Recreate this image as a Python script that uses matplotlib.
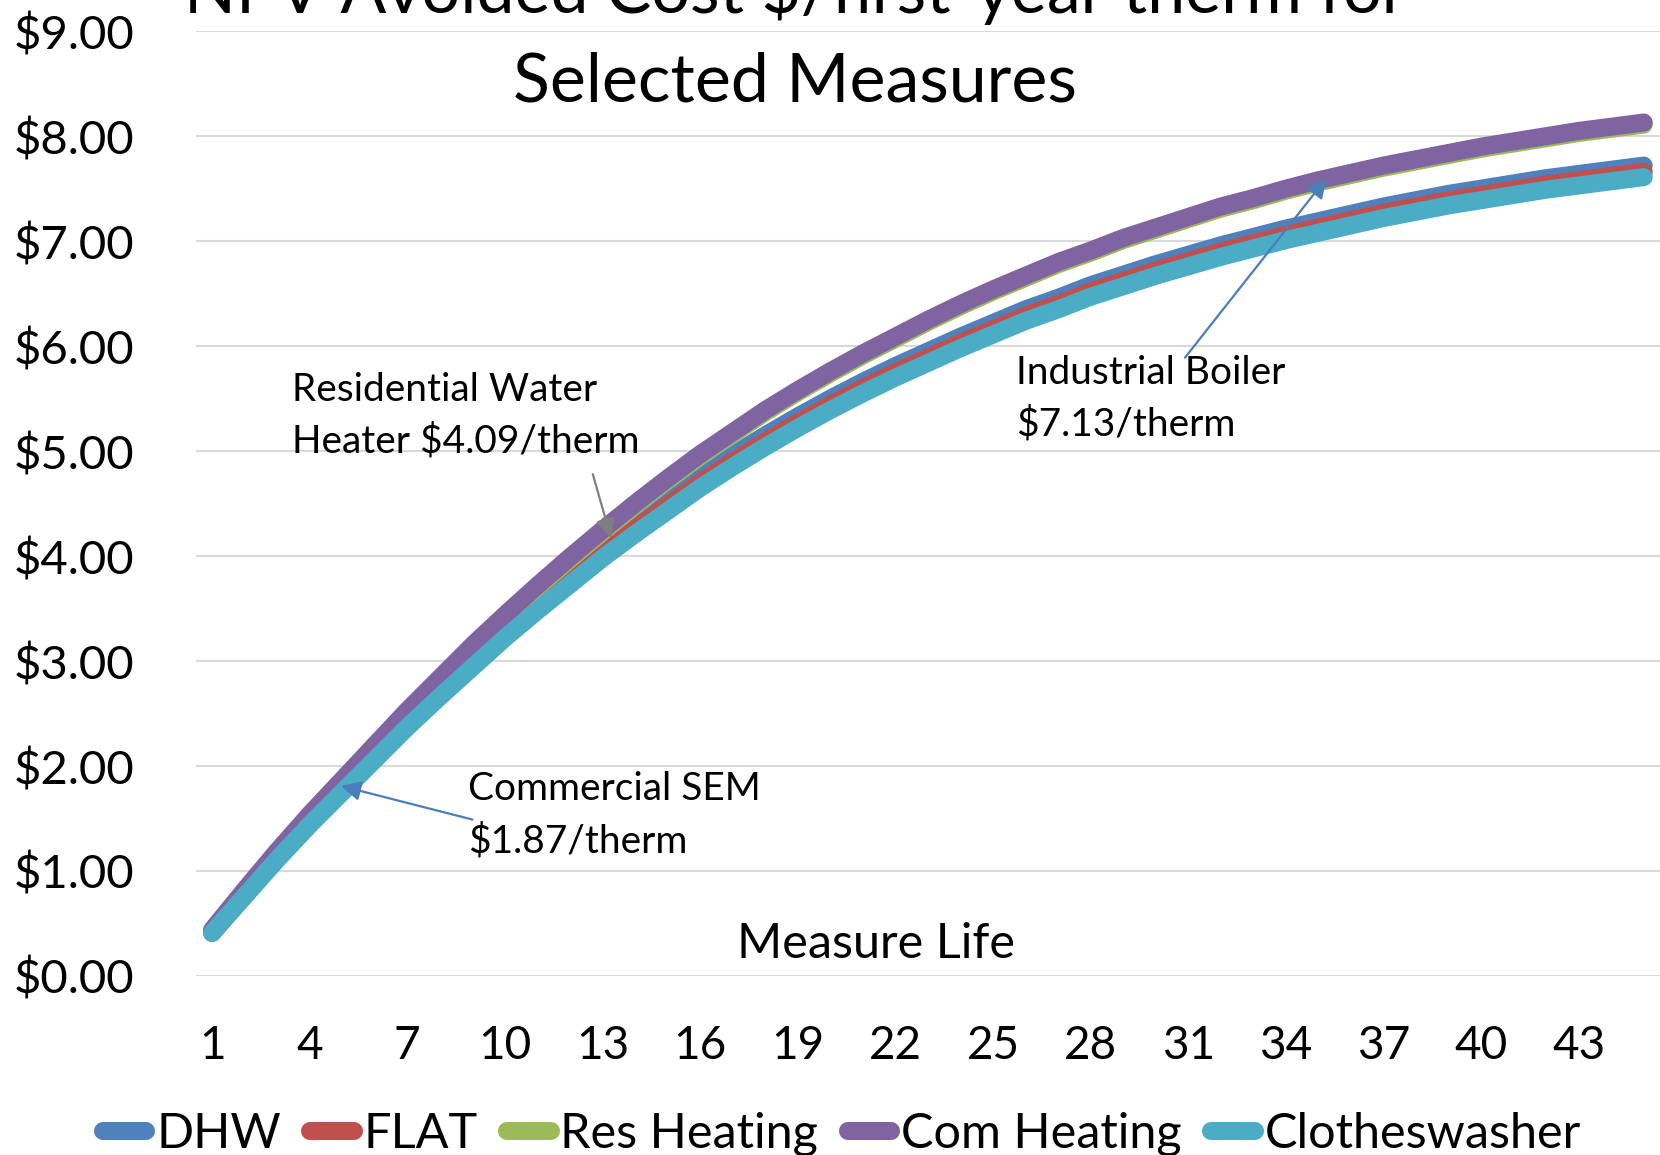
import matplotlib.pyplot as plt
from matplotlib.lines import Line2D

plt.rcParams['font.family'] = ['Lato', 'DejaVu Sans']

# measure life in years (category axis)
years = list(range(1, 46))

# NPV avoided cost, $ per first-year therm, by load shape
dhw = [0.42, 0.78, 1.14, 1.49, 1.81, 2.13, 2.45, 2.75, 3.04, 3.32,
       3.59, 3.84, 4.09, 4.32, 4.54, 4.76, 4.96, 5.15, 5.33, 5.50,
       5.66, 5.81, 5.95, 6.09, 6.22, 6.35, 6.46, 6.58, 6.68, 6.78,
       6.87, 6.96, 7.04, 7.12, 7.19, 7.26, 7.33, 7.39, 7.45, 7.50,
       7.55, 7.60, 7.64, 7.68, 7.72]
flat = [0.41, 0.77, 1.12, 1.46, 1.77, 2.09, 2.40, 2.70, 2.98, 3.27,
        3.53, 3.78, 4.03, 4.26, 4.48, 4.70, 4.90, 5.09, 5.27, 5.44,
        5.60, 5.75, 5.89, 6.03, 6.16, 6.29, 6.40, 6.52, 6.62, 6.72,
        6.81, 6.90, 6.98, 7.06, 7.13, 7.20, 7.27, 7.33, 7.39, 7.44,
        7.49, 7.54, 7.58, 7.62, 7.66]
res_heating = [0.43, 0.81, 1.18, 1.52, 1.85, 2.18, 2.51, 2.82, 3.13, 3.42,
               3.70, 3.97, 4.23, 4.48, 4.72, 4.95, 5.16, 5.37, 5.56, 5.74,
               5.91, 6.07, 6.23, 6.38, 6.52, 6.65, 6.78, 6.89, 7.01, 7.11,
               7.21, 7.31, 7.39, 7.48, 7.56, 7.63, 7.70, 7.76, 7.82, 7.88,
               7.93, 7.98, 8.03, 8.07, 8.11]
com_heating = [0.44, 0.82, 1.19, 1.54, 1.87, 2.20, 2.53, 2.84, 3.15, 3.44,
               3.72, 3.99, 4.25, 4.50, 4.74, 4.97, 5.18, 5.39, 5.58, 5.76,
               5.93, 6.09, 6.25, 6.40, 6.54, 6.67, 6.80, 6.91, 7.03, 7.13,
               7.23, 7.33, 7.41, 7.50, 7.58, 7.65, 7.72, 7.78, 7.84, 7.90,
               7.95, 8.00, 8.05, 8.09, 8.13]
clotheswasher = [0.41, 0.76, 1.11, 1.44, 1.75, 2.06, 2.37, 2.66, 2.94, 3.22,
                 3.48, 3.73, 3.98, 4.21, 4.43, 4.65, 4.85, 5.04, 5.22, 5.39,
                 5.55, 5.70, 5.84, 5.98, 6.11, 6.24, 6.35, 6.47, 6.57, 6.67,
                 6.76, 6.85, 6.93, 7.01, 7.08, 7.15, 7.22, 7.28, 7.34, 7.39,
                 7.44, 7.49, 7.53, 7.57, 7.61]

series = [('DHW', dhw, '#4F81BD'),
          ('FLAT', flat, '#C0504D'),
          ('Res Heating', res_heating, '#9BBB59'),
          ('Com Heating', com_heating, '#8064A2'),
          ('Clotheswasher', clotheswasher, '#4BACC6')]

ytick_vals = list(range(0, 10))
ytick_labels = ['\\$%d.00' % v for v in ytick_vals]
xtick_vals = years[::3]

fig = plt.figure(figsize=(16.6, 11.55), dpi=100)
ax = fig.add_axes([0.118, 0.155, 0.882, 0.818])

lw = 13
for name, vals, col in series:
    ax.plot(years, vals, color=col, lw=lw, solid_capstyle='round',
            solid_joinstyle='round', label=name)

ax.set_xlim(0.5, 45.5)
ax.set_ylim(0, 9)
ax.set_yticks(ytick_vals)
ax.set_yticklabels(ytick_labels)
ax.set_xticks(xtick_vals)
ax.set_xticklabels([str(x) for x in xtick_vals])
ax.yaxis.grid(True, color='#D9D9D9', lw=1.5)
ax.set_axisbelow(True)
for s in ax.spines.values():
    s.set_visible(False)
ax.tick_params(axis='y', length=0, pad=44, labelsize=34)
ax.tick_params(axis='x', length=0, pad=35, labelsize=33)

# title (first line runs off the top of the figure)
fig.text(0.479, 1 - 13 / 1155, 'NPV Avoided Cost \\$/first-year therm for',
         ha='center', va='baseline', fontsize=49)
fig.text(0.479, 1 - 102 / 1155, 'Selected Measures',
         ha='center', va='baseline', fontsize=49)

fig.text(876 / 1660, 1 - 944 / 1155, 'Measure Life',
         ha='center', va='center', fontsize=35)

# callouts
note_fs = 28
blue_arrow = dict(arrowstyle='-|>', color='#4A7EBB', lw=1.6,
                  mutation_scale=30, shrinkA=0, shrinkB=0)
gray_arrow = dict(arrowstyle='-|>', color='#7F7F7F', lw=1.6,
                  mutation_scale=30, shrinkA=0, shrinkB=0)

fig.text(292 / 1660, 1 - 390 / 1155, 'Residential Water',
         va='center', ha='left', fontsize=note_fs)
fig.text(292 / 1660, 1 - 441 / 1155, 'Heater \\$4.09/therm',
         va='center', ha='left', fontsize=note_fs)
ax.annotate('', xy=(13.26, 4.17), xytext=(12.70, 4.78), arrowprops=gray_arrow)

fig.text(468 / 1660, 1 - 789 / 1155, 'Commercial SEM',
         va='center', ha='left', fontsize=note_fs)
fig.text(468 / 1660, 1 - 841 / 1155, '\\$1.87/therm',
         va='center', ha='left', fontsize=note_fs)
ax.annotate('', xy=(4.96, 1.81), xytext=(9.0, 1.49), arrowprops=blue_arrow)

fig.text(1016 / 1660, 1 - 373 / 1155, 'Industrial Boiler',
         va='center', ha='left', fontsize=note_fs)
fig.text(1016 / 1660, 1 - 424 / 1155, '\\$7.13/therm',
         va='center', ha='left', fontsize=note_fs)
ax.annotate('', xy=(35.25, 7.60), xytext=(30.9, 5.89), arrowprops=blue_arrow)

handles = [Line2D([0], [0], color=c, lw=lw, solid_capstyle='round')
           for _, _, c in series]
fig.legend(handles, [n for n, _, _ in series], loc='center',
           bbox_to_anchor=(0.507, 0.018), ncol=5, frameon=False,
           fontsize=35, handlelength=0.9, handletextpad=0.2,
           columnspacing=0.6, borderaxespad=0, borderpad=0)

fig.savefig('out.png', dpi=100)
